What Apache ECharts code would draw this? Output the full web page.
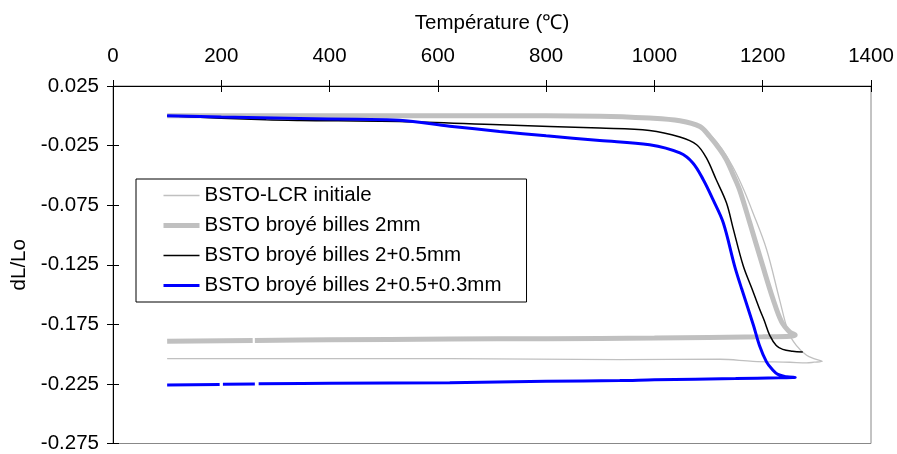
<!DOCTYPE html>
<html><head><meta charset="utf-8">
<script src="https://cdn.jsdelivr.net/npm/echarts@6/dist/echarts.min.js"></script>
<style>html,body{margin:0;padding:0;background:#fff}#c{width:897px;height:454px}</style>
</head><body><div id="c"></div>
<script>
// Series names
const seriesNames = ['BSTO-LCR initiale', 'BSTO broyé billes 2mm', 'BSTO broyé billes 2+0.5mm', 'BSTO broyé billes 2+0.5+0.3mm'];

// BSTO-LCR initiale (heating then cooling)
const initT = [100, 300, 500, 700, 900, 1000, 1050, 1085, 1105, 1125, 1145, 1165, 1180, 1207, 1231, 1247, 1262, 1281, 1296, 1310, 1295, 1281, 1250, 1182, 1121, 936, 622, 400, 100];
const initY = [0, 0, 0, -0.0003, -0.0008, -0.0022, -0.0045, -0.009, -0.017, -0.028, -0.043, -0.062, -0.079, -0.112, -0.154, -0.181, -0.1927, -0.201, -0.204, -0.206, -0.2068, -0.2074, -0.2068, -0.206, -0.2043, -0.2046, -0.2038, -0.2038, -0.2038];

// BSTO broyé billes 2mm
const b2T = [100, 400, 700, 900, 991, 1047, 1084, 1102, 1121, 1133, 1145, 1157, 1176, 1200, 1219, 1235, 1250, 1260, 1252, 1200, 1000, 800, 622, 400, 262, 260, 258, 100];
const b2Y = [0, 0, 0, -0.0003, -0.0019, -0.0042, -0.009, -0.0173, -0.0284, -0.037, -0.049, -0.0618, -0.0896, -0.1259, -0.1537, -0.173, -0.1815, -0.184, -0.185, -0.1855, -0.1865, -0.187, -0.1873, -0.188, -0.1885, null, -0.1885, -0.1893];

// BSTO broyé billes 2+0.5mm
const b05T = [100, 200, 283, 345, 529, 714, 899, 991, 1047, 1078, 1096, 1114, 1133, 1145, 1164, 1180, 1194, 1203, 1213, 1225, 1237, 1255, 1274];
const b05Y = [0, -0.002, -0.0034, -0.0039, -0.0048, -0.0076, -0.0103, -0.0123, -0.0178, -0.0243, -0.0354, -0.0535, -0.073, -0.0938, -0.1259, -0.145, -0.162, -0.172, -0.1843, -0.1927, -0.196, -0.1975, -0.1982];

// BSTO broyé billes 2+0.5+0.3mm
const b03T = [100, 200, 345, 450, 529, 622, 714, 800, 899, 991, 1047, 1071, 1090, 1108, 1127, 1148, 1161, 1183, 1194, 1207, 1217, 1228, 1244, 1260, 1230, 1150, 1000, 936, 800, 622, 400, 269, 265, 262, 203, 200, 197, 100];
const b03Y = [0, -0.001, -0.0022, -0.003, -0.0038, -0.0087, -0.0131, -0.0168, -0.0207, -0.0243, -0.0312, -0.0396, -0.0535, -0.0702, -0.0896, -0.1259, -0.145, -0.176, -0.1927, -0.2065, -0.2125, -0.217, -0.219, -0.2196, -0.2198, -0.2205, -0.2215, -0.2222, -0.2228, -0.224, -0.2245, -0.2248, null, -0.225, -0.2253, null, -0.2255, -0.226];

// Axis settings (values)
const xMin = 0, xMax = 1400, xStep = 200;
const yMin = -0.275, yMax = 0.025, yStep = 0.05;

function pairs(t, y) { return t.map((v, i) => [v, y[i] === null ? '-' : y[i]]); }

const FONT = '"Liberation Sans", Arial, sans-serif';
const FS = 20.5;
const chart = echarts.init(document.getElementById('c'), null, {renderer: 'canvas'});

const baseX = {type: 'value', position: 'top', min: xMin, max: xMax, interval: xStep, splitLine: {show: false}};
const baseY = {type: 'value', position: 'left', min: yMin, max: yMax, interval: yStep, splitLine: {show: false}};

const styles = [
  {color: '#c0c0c0', width: 1.3},
  {color: '#c0c0c0', width: 5},
  {color: '#000000', width: 1.5},
  {color: '#0000ff', width: 3}
];
const dataSets = [pairs(initT, initY), pairs(b2T, b2Y), pairs(b05T, b05Y), pairs(b03T, b03Y)];

chart.setOption({
  animation: false,
  textStyle: {fontFamily: FONT},
  grid: {left: 113, right: 26, top: 86, bottom: 9, show: true, borderColor: '#888', borderWidth: 1, backgroundColor: '#fff'},
  xAxis: [
    Object.assign({}, baseX, {
      name: 'Température (℃)', nameLocation: 'middle', nameGap: 52,
      nameTextStyle: {fontSize: FS, color: '#000', fontFamily: FONT},
      axisLine: {onZero: false, lineStyle: {color: '#000', width: 1}},
      axisTick: {length: 6, lineStyle: {color: '#000'}},
      axisLabel: {margin: 19, fontSize: FS, color: '#000', fontFamily: FONT, formatter: v => String(Math.round(v))}
    }),
    Object.assign({}, baseX, {
      axisLine: {show: false, onZero: false},
      axisTick: {inside: true, length: 6, lineStyle: {color: '#000'}},
      axisLabel: {show: false}
    })
  ],
  yAxis: [
    Object.assign({}, baseY, {
      name: 'dL/Lo', nameLocation: 'middle', nameGap: 78,
      nameTextStyle: {fontSize: FS, color: '#000', fontFamily: FONT},
      axisLine: {onZero: false, lineStyle: {color: '#000', width: 1}},
      axisTick: {length: 6, lineStyle: {color: '#000'}},
      axisLabel: {margin: 14, fontSize: FS, color: '#000', fontFamily: FONT, formatter: v => v.toFixed(3)}
    }),
    Object.assign({}, baseY, {
      axisLine: {show: false, onZero: false},
      axisTick: {inside: true, length: 6, lineStyle: {color: '#000'}},
      axisLabel: {show: false}
    })
  ],
  legend: {
    orient: 'vertical', left: 136, top: 179,
    padding: [6, 25, 6, 25], itemGap: 9, itemWidth: 36, itemHeight: 20,
    backgroundColor: '#fff', borderColor: '#000', borderWidth: 1, borderRadius: 0,
    itemStyle: {opacity: 0},
    textStyle: {fontSize: FS, color: '#000', fontFamily: FONT},
    data: seriesNames.map((n, i) => ({name: n, lineStyle: {color: styles[i].color, width: styles[i].width}}))
  },
  series: seriesNames.map((n, i) => ({
    name: n, type: 'line', data: dataSets[i], showSymbol: false, symbol: 'none', smooth: 0.35,
    color: styles[i].color, lineStyle: {color: styles[i].color, width: styles[i].width}, z: 2 + i
  }))
});
</script>
</body></html>
